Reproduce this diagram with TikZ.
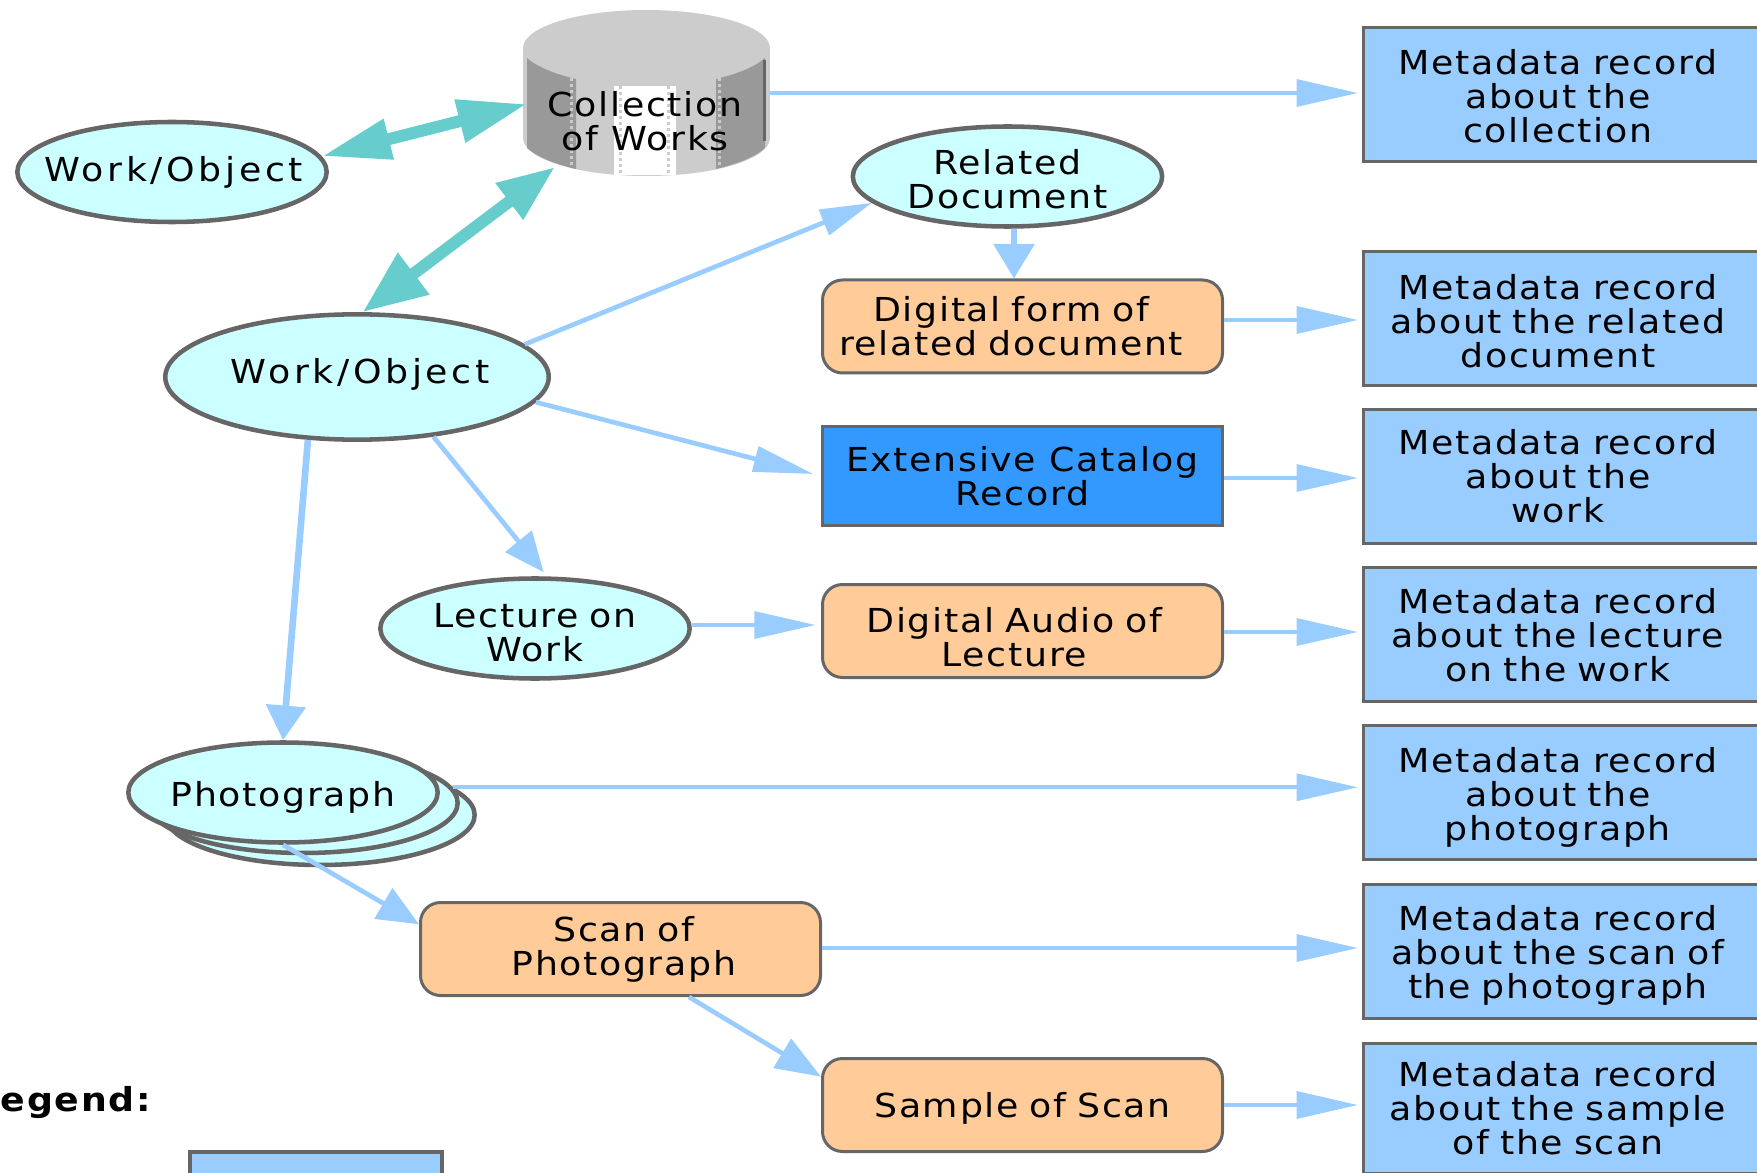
\documentclass[tikz,border=0pt]{standalone}
\usepackage{fontspec}
\setmainfont[FakeStretch=1.1,LetterSpace=5]{DejaVu Sans}
\newfontfamily\widelabel[FakeStretch=1.1,LetterSpace=11]{DejaVu Sans}
\usetikzlibrary{arrows.meta,shapes.geometric}

\definecolor{outlinegray}{HTML}{666666}
\definecolor{workcyan}{HTML}{CCFFFF}
\definecolor{linkblue}{HTML}{99CCFF}
\definecolor{linkteal}{HTML}{66CCCC}
\definecolor{digitalorange}{HTML}{FFCC99}
\definecolor{catalogblue}{HTML}{3399FF}
\definecolor{cyllight}{HTML}{CCCCCC}
\definecolor{cyldark}{HTML}{999999}

\tikzset{
  labeltext/.style={font=\fontsize{24.75pt}{25.5pt}\selectfont,inner sep=0pt},
  lines/.style 2 args={execute at begin node={\leftskip=0pt plus 1fil\rightskip=#1 plus 1fil\parfillskip=0pt\parindent=0pt\rule{0pt}{\dimexpr 19pt+#2\relax}}},
  workellipse/.style={labeltext,align=center,ellipse,draw=outlinegray,line width=3.4pt,fill=workcyan,inner xsep=-20pt,inner ysep=-10pt,minimum width=232pt,minimum height=75pt},
  digitalbox/.style={labeltext,rectangle,rounded corners=15pt,draw=outlinegray,line width=2.25pt,fill=digitalorange,text width=300pt,minimum height=69.75pt},
  catalogbox/.style={labeltext,align=center,rectangle,draw=outlinegray,line width=2.25pt,fill=catalogblue,minimum width=300pt,minimum height=74.25pt},
  metabox/.style={labeltext,rectangle,draw=outlinegray,line width=2.25pt,fill=linkblue,text width=305.25pt,minimum height=100.5pt},
  feedlink/.style={draw=linkblue,line width=3.2pt,-{Triangle[length=46pt,width=20pt]},shorten >=3pt},
  dropllink/.style={draw=linkblue,line width=5pt,-{Triangle[length=26pt,width=29pt]}},
  slantlink/.style 2 args={draw=linkblue,line width=3.5pt,-{Triangle[length=#1,width=#2]}},
  teallink/.style={draw=linkteal,line width=9pt},
  cyldots/.style={draw=cyllight,line width=2.25pt,dash pattern=on 2.25pt off 2.25pt}
}

\begin{document}
\begin{tikzpicture}[x=0.75pt,y=0.75pt,yscale=-1,xscale=1]
\path[use as bounding box,clip] (0,0) rectangle (1757,1173);

%Shape: Cylinder
\fill[cyllight] (523,48) -- (770,48) -- (770,138) -- (523,138) -- cycle;
\fill[cyllight] (646.5,48) ellipse [x radius=123.5,y radius=38];
\fill[cyllight] (646.5,138) ellipse [x radius=123.5,y radius=38];
\fill[cyldark] (527,58) .. controls (537,67) and (555,74) .. (576,79) -- (576,169) .. controls (555,164) and (537,157) .. (527,148) -- cycle;
\fill[cyldark] (765,58) .. controls (755,67) and (737,74) .. (716,79) -- (716,169) .. controls (737,164) and (755,157) .. (765,148) -- cycle;
\fill[white] (614,86) rectangle (676,175);
\draw[cyldots] (571,78) -- (571,167);
\draw[cyldots] (719,78) -- (719,167);
\draw[cyldots] (620,86) -- (620,175);
\draw[cyldots] (668,86) -- (668,175);
\draw[outlinegray,line width=2.25pt] (764,60) -- (764,141);
\coordinate (collectionw) at (527,104);
\coordinate (collections) at (555,167);
\coordinate (collectione) at (770,93);

% Text Node
\node[labeltext,align=center] (collection) at (645,121.5) {Collection\\of Works};

%Shape: Ellipse
\node[workellipse] (workleft) at (172,172) {\hspace*{2.5pt}\widelabel Work/Object};
\node[workellipse,minimum width=287.6pt,minimum height=94pt,text depth=9.2pt] (work) at (357,377) {\hspace*{5pt}\widelabel Work/Object};
\node[workellipse,text width=200pt,lines={0pt}{3.4pt}] (related) at (1007.5,176.5) {Related\\Document};
\node[workellipse,text width=200pt,lines={0pt}{5pt}] (lecture) at (535,628.5) {Lecture on\\Work};
\node[workellipse] (photolow) at (320,815) {};
\node[workellipse] (photomid) at (303,803) {};
\node[workellipse,text height=25.5pt] (photo) at (283,792.5) {Photograph};

%Shape: Rounded Rectangle
\node[digitalbox,lines={17pt}{0pt}] (digital) at (1022.5,326.5) {Digital form of\\related document};
\node[catalogbox] (catalog) at (1022.5,476) {Extensive Catalog\\Record};
\node[digitalbox,lines={12pt}{8.4pt}] (audio) at (1022.5,631) {Digital Audio of\\Lecture};
\node[digitalbox,lines={-5pt}{0pt}] (scan) at (620.5,949) {Scan of\\Photograph};
\node[digitalbox,lines={0pt}{5pt}] (sample) at (1022.5,1105) {Sample of Scan};

%Shape: Rectangle
\node[metabox,lines={13.7pt}{1.7pt}] (metacollection) at (1567,95) {Metadata record\\about the\\collection};
\node[metabox,lines={13.7pt}{3.4pt}] (metarelated) at (1567,318.5) {Metadata record\\about the related\\document};
\node[metabox,lines={13.7pt}{0pt}] (metawork) at (1567,476) {Metadata record\\about the\\work};
\node[metabox,lines={13.7pt}{1.7pt}] (metalecture) at (1567,634) {Metadata record\\about the lecture\\on the work};
\node[metabox,lines={13.7pt}{6.7pt}] (metaphoto) at (1567,792.5) {Metadata record\\about the\\photograph};
\node[metabox,lines={13.7pt}{6.7pt}] (metascan) at (1567,951) {Metadata record\\about the scan of\\the photograph};
\node[metabox,minimum height=97.2pt,lines={13.7pt}{0pt}] (metasample) at (1567,1108.3) {Metadata record\\about the sample\\of the scan};

%Legend
\node[labeltext,anchor=base east] (legend) at (151,1111) {\bfseries Legend:};
\node[rectangle,draw=outlinegray,line width=3pt,fill=linkblue,minimum width=189pt,minimum height=72pt] (legendbox) at (316,1200) {};

%Straight Lines
\draw[teallink,{Triangle[length=52pt,width=29pt]}-{Triangle[length=52pt,width=31pt]}] (workleft.6) -- (collectionw);
\draw[teallink,{Triangle[length=48pt,width=37pt]}-{Triangle[length=43pt,width=32pt]}] (work.85) -- (collections);
\draw[feedlink] (collectione) -- (metacollection.west |- collectione);
\draw[slantlink={39pt}{20pt}] (work.11) -- (related.191);
\draw[slantlink={45pt}{19pt},shorten >=6pt] (work.-8) -- (catalog.west);
\draw[slantlink={30pt}{25pt},shorten >=4pt] (work.-38) -- (lecture.77);
\draw[dropllink] (work.-128) -- (photo.north);
\draw[dropllink,-{Triangle[length=26pt,width=30pt]}] (related.south -| 1014,0) -- (digital.north -| 1014,0);
\draw[feedlink] (digital.east |- 0,320) -- (metarelated.west |- 0,320);
\draw[feedlink] (catalog.east |- 0,478) -- (metawork.west |- 0,478);
\draw[feedlink,shorten >=4pt] (lecture.east |- 0,625) -- (audio.west |- 0,625);
\draw[feedlink] (audio.east |- 0,632) -- (metalecture.west |- 0,632);
\draw[feedlink] (photomid.6) -- (metaphoto.west |- photomid.6);
\draw[feedlink] (scan.east |- 0,948) -- (metascan.west |- 0,948);
\draw[feedlink] (sample.east |- 0,1105) -- (metasample.west |- 0,1105);
\draw[slantlink={31pt}{26pt}] (photo.south) -- (scan.173);
\draw[slantlink={34pt}{25pt}] (scan.-35) -- (sample.172);

\end{tikzpicture}
\end{document}
